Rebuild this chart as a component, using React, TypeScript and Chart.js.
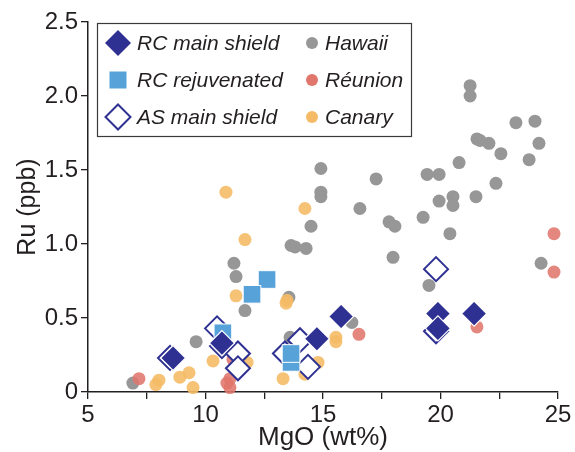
import React, { useEffect, useRef } from 'react';
import { Chart, registerables } from 'chart.js';

Chart.register(...registerables);

const FONT = '"Liberation Sans", Arial, Helvetica, sans-serif';

// [MgO wt%, Ru ppb]
const rcMain: [number, number][] = [
  [8.62, 0.23], [10.7, 0.33], [14.74, 0.36], [15.77, 0.51],
  [19.89, 0.53], [19.89, 0.43], [21.43, 0.53],
];
const rcRejuvenated: [number, number][] = [
  [12.62, 0.76], [11.98, 0.66], [10.74, 0.4], [13.64, 0.2], [13.64, 0.26],
];
const asMain: [number, number][] = [
  [8.49, 0.23], [10.49, 0.43], [10.7, 0.31], [11.38, 0.26], [11.38, 0.16],
  [13.38, 0.26], [14.02, 0.35], [14.36, 0.17], [19.81, 0.83], [19.81, 0.41],
];
const hawaii: [number, number][] = [
  [21.26, 2.07], [21.26, 2.0], [23.21, 1.82], [24.02, 1.83], [21.55, 1.71],
  [21.68, 1.7], [22.06, 1.68], [24.19, 1.68], [22.57, 1.61], [23.77, 1.57],
  [20.79, 1.55], [19.43, 1.47], [19.94, 1.47], [22.36, 1.41], [19.94, 1.29],
  [20.53, 1.32], [20.53, 1.26], [21.51, 1.32], [19.26, 1.18], [20.4, 1.07],
  [14.91, 1.51], [17.26, 1.44], [14.91, 1.35], [14.91, 1.32], [16.57, 1.24],
  [14.49, 1.12], [17.81, 1.15], [18.06, 1.12], [13.64, 0.99], [13.81, 0.98],
  [14.28, 0.97], [17.98, 0.91], [19.51, 0.72], [24.28, 0.87], [13.55, 0.64],
  [11.21, 0.87], [11.3, 0.78], [11.68, 0.55], [9.6, 0.34], [6.91, 0.06],
  [13.6, 0.37], [16.23, 0.47],
];
const reunion: [number, number][] = [
  [24.83, 1.07], [24.83, 0.81], [21.55, 0.44], [16.53, 0.39], [7.17, 0.09],
  [10.91, 0.06], [11.04, 0.09], [11.04, 0.03], [11.17, 0.22],
];
const canary: [number, number][] = [
  [10.87, 1.35], [14.23, 1.24], [11.68, 1.03], [11.3, 0.65], [13.47, 0.62],
  [13.43, 0.6], [10.32, 0.21], [11.77, 0.2], [8.02, 0.08], [7.89, 0.05],
  [8.91, 0.1], [9.3, 0.13], [9.47, 0.03], [13.3, 0.09], [14.79, 0.2],
  [14.23, 0.12], [15.55, 0.37], [15.55, 0.34],
];

const NAVY = '#2e3192';
const LIGHTBLUE = '#58a2da';
const GRAY = '#979797';
const RED = 'rgba(224,118,108,0.88)';
const ORANGE = 'rgba(245,187,102,0.9)';
const AXIS = '#231f20';

const toPts = (a: [number, number][]) => a.map(([x, y]) => ({ x, y }));

const legendPlugin = {
  id: 'boxLegend',
  afterDraw(chart: any) {
    const ctx: CanvasRenderingContext2D = chart.ctx;
    ctx.save();
    ctx.fillStyle = '#ffffff';
    ctx.fillRect(97.5, 23.5, 314, 113);
    ctx.strokeStyle = '#3a3a3a';
    ctx.lineWidth = 1.2;
    ctx.strokeRect(97.5, 23.5, 314, 113);

    const diamond = (x: number, y: number, r: number) => {
      ctx.beginPath();
      ctx.moveTo(x, y - r);
      ctx.lineTo(x + r, y);
      ctx.lineTo(x, y + r);
      ctx.lineTo(x - r, y);
      ctx.closePath();
    };
    const rows = [43, 80, 117];
    // col 1
    diamond(118, rows[0], 13);
    ctx.fillStyle = NAVY;
    ctx.fill();
    ctx.fillStyle = LIGHTBLUE;
    ctx.fillRect(109.5, rows[1] - 8.5, 17, 17);
    diamond(118, rows[2], 12.5);
    ctx.fillStyle = '#fff';
    ctx.fill();
    ctx.strokeStyle = NAVY;
    ctx.lineWidth = 2;
    ctx.stroke();
    // col 2
    const cols = [GRAY, 'rgb(224,118,108)', 'rgb(245,187,102)'];
    cols.forEach((c, i) => {
      ctx.beginPath();
      ctx.arc(312, rows[i], 6, 0, Math.PI * 2);
      ctx.fillStyle = c;
      ctx.fill();
    });
    ctx.fillStyle = '#231f20';
    ctx.font = `italic 21px ${FONT}`;
    ctx.textBaseline = 'middle';
    ctx.textAlign = 'left';
    const labels1 = ['RC main shield', 'RC rejuvenated', 'AS main shield'];
    const labels2 = ['Hawaii', 'Réunion', 'Canary'];
    labels1.forEach((t, i) => ctx.fillText(t, 137, rows[i] + 1));
    labels2.forEach((t, i) => ctx.fillText(t, 325, rows[i] + 1));
    ctx.restore();
  },
};

export default function App() {
  const ref = useRef<HTMLCanvasElement>(null);
  useEffect(() => {
    if (!ref.current) return;
    const chart = new Chart(ref.current, {
      type: 'scatter',
      data: {
        datasets: [
          {
            label: 'RC main shield',
            data: toPts(rcMain),
            pointStyle: 'rectRot',
            pointRadius: 12.5,
            backgroundColor: NAVY,
            borderColor: '#ffffff',
            borderWidth: 1.2,
          },
          {
            label: 'RC rejuvenated',
            data: toPts(rcRejuvenated),
            pointStyle: 'rect',
            pointRadius: 12.5,
            backgroundColor: LIGHTBLUE,
            borderColor: '#ffffff',
            borderWidth: 1,
          },
          {
            label: 'AS main shield',
            data: toPts(asMain),
            pointStyle: 'rectRot',
            pointRadius: 12,
            backgroundColor: '#ffffff',
            borderColor: NAVY,
            borderWidth: 2,
          },
          {
            label: 'Canary',
            data: toPts(canary),
            pointStyle: 'circle',
            pointRadius: 6.5,
            backgroundColor: ORANGE,
            borderWidth: 0,
          },
          {
            label: 'Réunion',
            data: toPts(reunion),
            pointStyle: 'circle',
            pointRadius: 6.5,
            backgroundColor: RED,
            borderWidth: 0,
          },
          {
            label: 'Hawaii',
            data: toPts(hawaii),
            pointStyle: 'circle',
            pointRadius: 6.5,
            backgroundColor: GRAY,
            borderWidth: 0,
          },
        ],
      },
      options: {
        responsive: false,
        animation: false,
        devicePixelRatio: 1,
        layout: { padding: { top: 22, right: 17, left: 0, bottom: 0 } },
        plugins: {
          legend: { display: false },
          tooltip: { enabled: false },
        },
        elements: { point: { hoverRadius: 0 } },
        clip: false as any,
        scales: {
          x: {
            type: 'linear',
            min: 5,
            max: 25,
            ticks: {
              stepSize: 2.5,
              autoSkip: false,
              maxRotation: 0,
              color: AXIS,
              padding: 2,
              font: { size: 24, family: FONT },
              callback: (v: any) => (Number(v) % 5 === 0 ? String(v) : ''),
            },
            grid: {
              display: true,
              drawOnChartArea: false,
              drawTicks: true,
              tickLength: 7,
              color: AXIS,
              lineWidth: 1.3,
            },
            border: { display: true, color: AXIS, width: 1.5 },
            title: {
              display: true,
              text: 'MgO (wt%)',
              color: AXIS,
              font: { size: 26, family: FONT, lineHeight: 1 },
              padding: { top: 0, bottom: 1 },
            },
            afterFit: (s: any) => {
              s.height = 60;
            },
          },
          y: {
            type: 'linear',
            min: 0,
            max: 2.5,
            ticks: {
              stepSize: 0.5,
              color: AXIS,
              padding: 3,
              font: { size: 24, family: FONT },
              callback: (v: any) => (Number(v) === 0 ? '0' : Number(v).toFixed(1)),
            },
            grid: {
              display: true,
              drawOnChartArea: false,
              drawTicks: true,
              tickLength: 7,
              color: AXIS,
              lineWidth: 1.3,
            },
            border: { display: true, color: AXIS, width: 1.5 },
            title: {
              display: true,
              text: 'Ru (ppb)',
              color: AXIS,
              font: { size: 25, family: FONT, lineHeight: 1 },
              padding: { top: 16, bottom: 0 },
            },
            afterFit: (s: any) => {
              s.width = 88;
            },
          },
        },
      } as any,
      plugins: [legendPlugin],
    });
    return () => chart.destroy();
  }, []);
  return (
    <div style={{ position: 'fixed', left: 0, top: 0, width: 575, height: 452, background: '#fff' }}>
      <canvas ref={ref} width={575} height={452} style={{ width: 575, height: 452, display: 'block' }} />
    </div>
  );
}
